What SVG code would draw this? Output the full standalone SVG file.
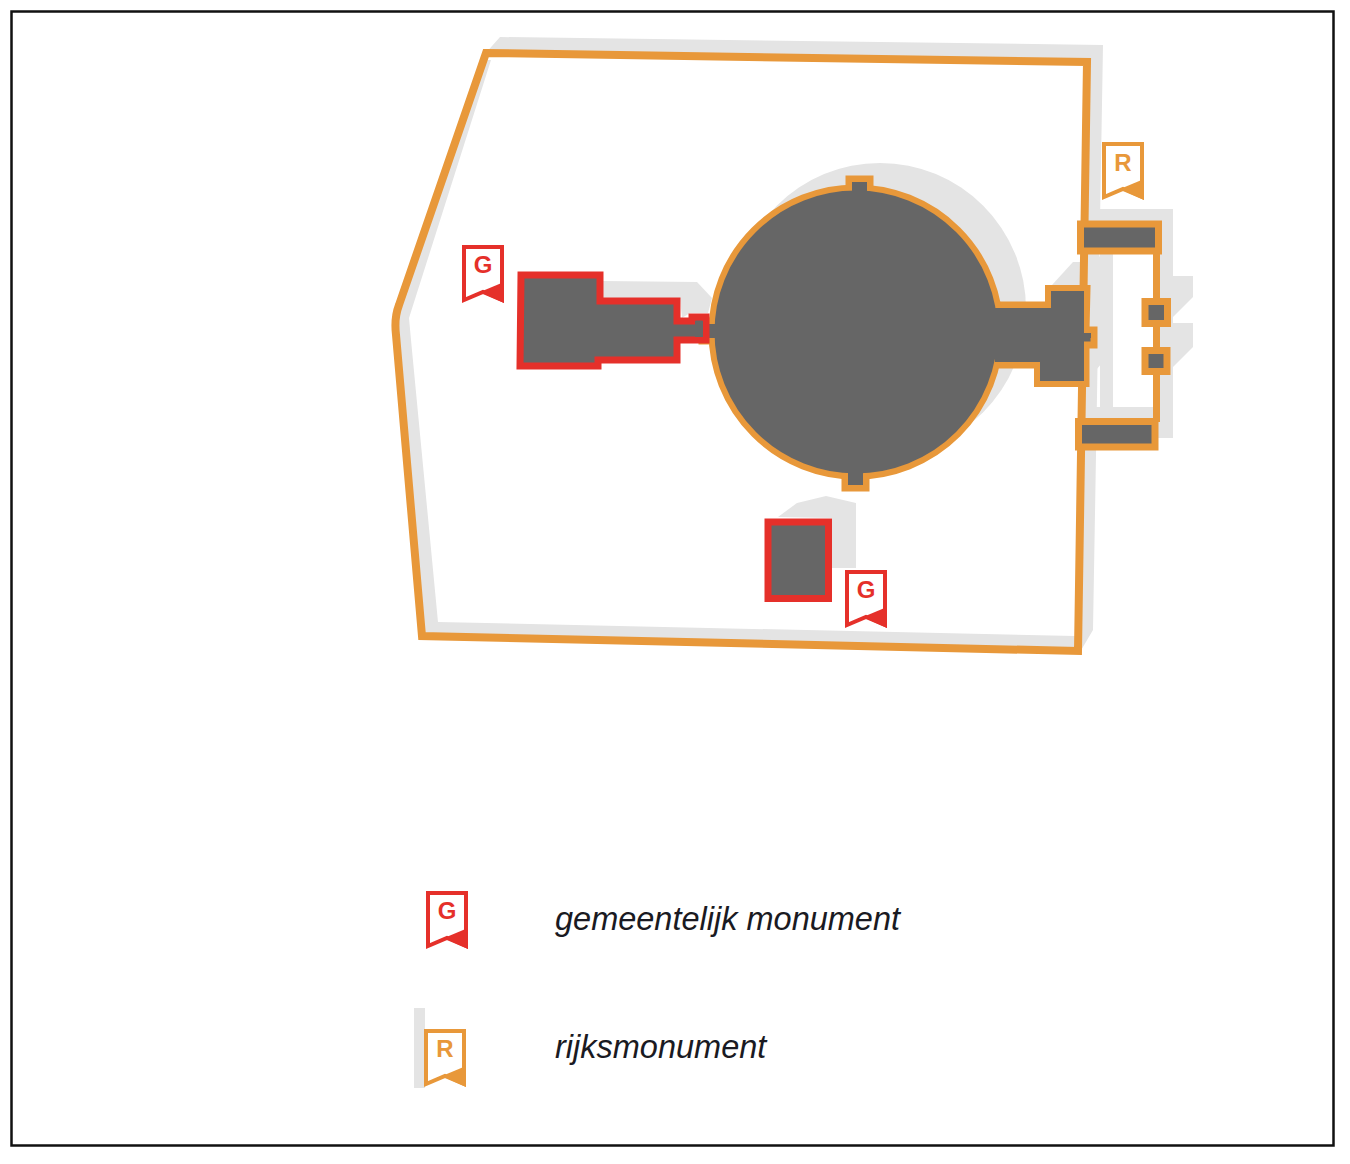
<svg xmlns="http://www.w3.org/2000/svg" width="1350" height="1164" viewBox="0 0 1350 1164">
<style>
.sh{fill:#e4e4e4;stroke:none}
.o{fill:#666;stroke:#e8983a;stroke-width:7;stroke-linejoin:miter}
.r{fill:#666;stroke:#e5302a;stroke-width:7;stroke-linejoin:miter}
.fl{font-family:"Liberation Sans",Arial,sans-serif;font-weight:700;font-size:24px;text-anchor:middle}
.lg{font-family:"Liberation Sans",Arial,sans-serif;font-style:italic;font-size:32.500px;fill:#1a1a22}
.fr{fill:#fff;stroke-width:4;stroke-linejoin:miter}
</style>
<defs>
<g id="flag-g"><path class="fr" stroke="#e5302a" d="M2,2H40V55L21,47L2,55Z"/><path fill="#e5302a" d="M42,37L18,47L42,58Z"/></g>
<g id="flag-r"><path class="fr" stroke="#e8983a" d="M2,2H40V55L21,47L2,55Z"/><path fill="#e8983a" d="M42,37L18,47L42,58Z"/></g>
</defs>
<rect width="1350" height="1164" fill="#fff"/>
<rect id="frame" x="11.500" y="11.500" width="1322" height="1134" fill="none" stroke="#111" stroke-width="2.500"/>

<g id="shadows">
<polygon class="sh" points="484,55 500,37 1103,45 1093,630 1080,652 1085,64"/>
<polygon class="sh" points="484,60 491,60 409,318 411,340 438,622 1075,636 1075,648 425,634 398,340 400,310"/>
<circle class="sh" cx="880" cy="309" r="146"/>
<polygon class="sh" points="1100,209 1173,209 1173,276 1193,276 1193,297 1173,317 1173,323 1193,323 1193,347 1173,367 1173,438 1155,438 1155,415 1100,415"/>
<rect x="1113" y="252" width="41" height="155" fill="#fff"/>
<polygon class="sh" points="1085,255 1113,258 1113,350 1096,370 1096,407 1155,407 1155,420 1085,420"/>
<polygon class="sh" points="1052,285 1073,262 1090,262 1090,285"/>
<polygon class="sh" points="1000,368 1013,368 990,397"/>
<polygon class="sh" points="603,281 697,282 712,298 708,313 690,313 682,318 680,298 603,298"/>
<polygon class="sh" points="778,517 797,503 826,496 856,503 856,568 832,568 832,518"/>
</g>

<g id="site-boundary">
<path fill="none" stroke="#e8983a" stroke-width="8" stroke-linejoin="miter" d="M486,53L1087,62L1078,651L422,636L396,335Q394,318 399,305Z"/>
</g>

<g id="east-wing">
<path fill="none" stroke="#e8983a" stroke-width="7" d="M1156.500,250V422"/>
<rect class="o" x="1080.500" y="224" width="78" height="27"/>
<rect class="o" x="1078.500" y="421.500" width="76.500" height="25.500"/>
<rect class="o" x="1145" y="301.500" width="22.500" height="22"/>
<rect class="o" x="1145" y="350.500" width="22" height="21"/>
</g>

<g id="rotunda">
<path class="o" d="M1087,288.500H1048.500V305H1000V365H1037.500V383.500H1086V345H1094V330H1086Z" stroke-width="6"/>
<rect class="o" x="849" y="179" width="21" height="18" stroke-width="6"/>
<rect class="o" x="845" y="470" width="21" height="18" stroke-width="6"/>
<rect class="o" x="702" y="321" width="20" height="20" stroke-width="6"/>
<circle cx="856" cy="332" r="144.500" fill="#666" stroke="#e8983a" stroke-width="6"/>
<rect x="852" y="182" width="15" height="15" fill="#666"/>
<rect x="848" y="470" width="15" height="15" fill="#666"/>
<rect x="706" y="324" width="16" height="14" fill="#666"/>
<path fill="#666" d="M995,308H1051V291H1084V381H1040V362H995Z"/>
<rect x="1083" y="333" width="8" height="5" fill="#666"/>
</g>

<g id="west-building">
<path class="r" d="M521,275H600V301H677V321H692V317H706V340H677V360H598V366H520Z"/>
<rect x="695" y="321" width="8" height="16" fill="#666"/>
</g>

<g id="south-building">
<rect class="r" x="768" y="522" width="60.500" height="76.500"/>
</g>

<g id="flag-r-site">
<use href="#flag-r" transform="translate(1102,142)"/>
<text class="fl" x="1123" y="171" fill="#e8983a">R</text>
</g>
<g id="flag-g-west">
<use href="#flag-g" transform="translate(462,245)"/>
<text class="fl" x="483" y="273" fill="#e5302a">G</text>
</g>
<g id="flag-g-south">
<use href="#flag-g" transform="translate(845,570)"/>
<text class="fl" x="866" y="598" fill="#e5302a">G</text>
</g>

<g id="legend-g">
<use href="#flag-g" transform="translate(426,891)"/>
<text class="fl" x="447" y="919" fill="#e5302a">G</text>
<text class="lg" x="555" y="930">gemeentelijk monument</text>
</g>
<g id="legend-r">
<rect x="414" y="1008" width="11" height="80" fill="#e4e4e4"/>
<use href="#flag-r" transform="translate(424,1029)"/>
<text class="fl" x="445" y="1057" fill="#e8983a">R</text>
<text class="lg" x="555" y="1058">rijksmonument</text>
</g>
</svg>
